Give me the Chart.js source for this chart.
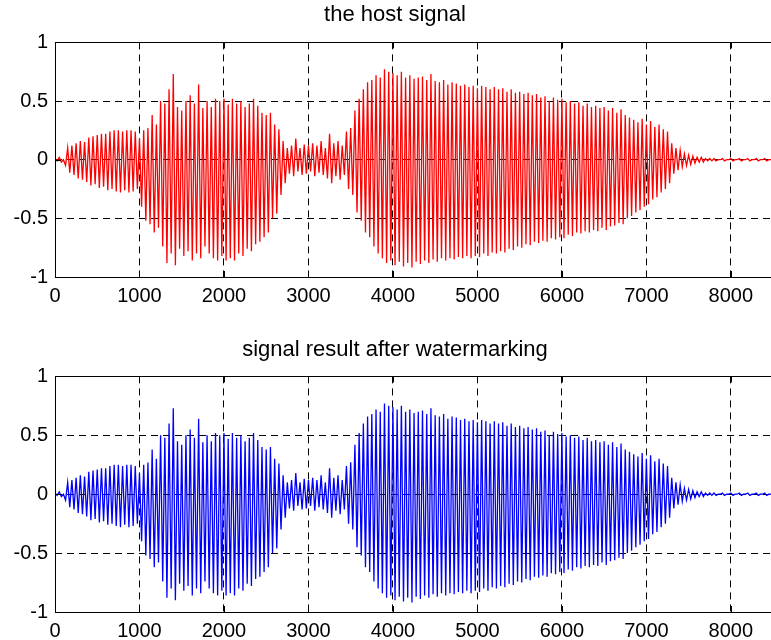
<!DOCTYPE html>
<html>
<head>
<meta charset="utf-8">
<title>host signal vs watermarked signal</title>
<script src="https://cdn.jsdelivr.net/npm/chart.js@4.4.0/dist/chart.umd.min.js"></script>
<style>
  html, body { margin: 0; padding: 0; background: #fff; overflow: hidden; }
  .plot { position: relative; width: 790px; height: 320px; }
</style>
</head>
<body>
<div class="plot"><canvas id="hostChart"></canvas></div>
<div class="plot"><canvas id="markedChart"></canvas></div>
<script>
// Sample spacing between successive peak readings
const SAMPLE_STEP = 50;

// Axis ticks
const xTicks = [0, 1000, 2000, 3000, 4000, 5000, 6000, 7000, 8000];
const yTicks = [-1, -0.5, 0, 0.5, 1];

// Positive peaks, one every SAMPLE_STEP samples (0 .. 8450)
const hostUpper = [
  0.01, 0.02, 0.00, 0.10, 0.12, 0.14, 0.16, 0.15, 0.19, 0.20,
  0.21, 0.22, 0.22, 0.24, 0.25, 0.25, 0.24, 0.25, 0.25, 0.24,
  0.18, 0.25, 0.27, 0.38, 0.30, 0.50, 0.48, 0.60, 0.73, 0.45,
  0.42, 0.50, 0.55, 0.48, 0.64, 0.44, 0.50, 0.45, 0.52, 0.50,
  0.52, 0.47, 0.52, 0.48, 0.50, 0.45, 0.48, 0.52, 0.46, 0.40,
  0.38, 0.40, 0.30, 0.26, 0.16, 0.10, 0.12, 0.18, 0.10, 0.13,
  0.12, 0.14, 0.12, 0.16, 0.10, 0.22, 0.14, 0.16, 0.12, 0.24,
  0.27, 0.42, 0.52, 0.60, 0.66, 0.68, 0.72, 0.70, 0.77, 0.75,
  0.74, 0.72, 0.75, 0.70, 0.72, 0.69, 0.70, 0.71, 0.68, 0.73,
  0.67, 0.66, 0.68, 0.64, 0.66, 0.65, 0.63, 0.64, 0.62, 0.63,
  0.61, 0.63, 0.62, 0.60, 0.62, 0.60, 0.61, 0.58, 0.60, 0.57,
  0.58, 0.56, 0.57, 0.55, 0.56, 0.53, 0.54, 0.50, 0.53, 0.51,
  0.52, 0.49, 0.50, 0.48, 0.49, 0.46, 0.48, 0.45, 0.46, 0.44,
  0.45, 0.42, 0.44, 0.40, 0.43, 0.38, 0.36, 0.34, 0.32, 0.35,
  0.30, 0.33, 0.28, 0.30, 0.26, 0.24, 0.14, 0.10, 0.08, 0.05,
  0.04, 0.03, 0.02, 0.02, 0.01, 0.01, 0.01, 0.00, 0.01, 0.00,
  0.01, 0.00, 0.01, 0.00, 0.01, 0.00, 0.01, 0.00, 0.01, 0.00
];

// Negative troughs, half a step after each peak (25 .. 8475)
const hostLower = [
  -0.01, -0.02, -0.05, -0.11, -0.13, -0.16, -0.17, -0.19, -0.22, -0.21,
  -0.24, -0.23, -0.26, -0.25, -0.27, -0.28, -0.26, -0.28, -0.27, -0.25,
  -0.40, -0.52, -0.55, -0.62, -0.58, -0.74, -0.88, -0.80, -0.90, -0.76,
  -0.82, -0.78, -0.86, -0.80, -0.84, -0.74, -0.80, -0.84, -0.86, -0.82,
  -0.86, -0.84, -0.86, -0.80, -0.82, -0.76, -0.78, -0.72, -0.70, -0.66,
  -0.62, -0.50, -0.46, -0.30, -0.20, -0.12, -0.14, -0.10, -0.13, -0.12,
  -0.10, -0.14, -0.11, -0.13, -0.16, -0.20, -0.14, -0.17, -0.13, -0.25,
  -0.30, -0.45, -0.52, -0.62, -0.66, -0.74, -0.80, -0.84, -0.88, -0.86,
  -0.90, -0.87, -0.91, -0.88, -0.92, -0.87, -0.89, -0.86, -0.88, -0.85,
  -0.87, -0.84, -0.86, -0.84, -0.85, -0.83, -0.84, -0.82, -0.84, -0.82,
  -0.83, -0.80, -0.82, -0.79, -0.80, -0.78, -0.79, -0.76, -0.77, -0.74,
  -0.75, -0.72, -0.73, -0.70, -0.71, -0.69, -0.70, -0.67, -0.68, -0.66,
  -0.67, -0.64, -0.65, -0.62, -0.63, -0.61, -0.62, -0.60, -0.61, -0.58,
  -0.60, -0.57, -0.56, -0.54, -0.55, -0.50, -0.48, -0.45, -0.43, -0.40,
  -0.38, -0.34, -0.32, -0.28, -0.25, -0.20, -0.12, -0.09, -0.06, -0.05,
  -0.04, -0.03, -0.02, -0.02, -0.01, -0.01, -0.01, 0.00, -0.01, 0.00,
  -0.01, 0.00, -0.01, 0.00, -0.01, 0.00, -0.01, 0.00, -0.01, 0.00
];

// Watermarked signal is visually identical to the host
const markedUpper = hostUpper.slice();
const markedLower = hostLower.slice();

const FONT = '"Liberation Sans", Arial, sans-serif';

function buildSignal(upper, lower) {
  const pts = [];
  upper.forEach((u, i) => {
    pts.push({ x: i * SAMPLE_STEP, y: u });
    pts.push({ x: i * SAMPLE_STEP + SAMPLE_STEP / 2, y: lower[i] });
  });
  return pts;
}

// Box around the axes plus short inward tick marks, like MATLAB
const matlabFrame = {
  id: 'matlabFrame',
  afterDraw(chart) {
    const { ctx, chartArea: a } = chart;
    const x = chart.scales.x, y = chart.scales.y;
    ctx.save();
    ctx.setLineDash([]);
    ctx.strokeStyle = '#000';
    ctx.lineWidth = 1;
    ctx.beginPath();
    x.ticks.forEach(t => {
      const px = Math.round(x.getPixelForValue(t.value)) + 0.5;
      ctx.moveTo(px, a.bottom); ctx.lineTo(px, a.bottom - 6);
      ctx.moveTo(px, a.top); ctx.lineTo(px, a.top + 6);
    });
    y.ticks.forEach(t => {
      const py = Math.round(y.getPixelForValue(t.value)) + 0.5;
      ctx.moveTo(a.left, py); ctx.lineTo(a.left + 6, py);
    });
    ctx.stroke();
    ctx.strokeRect(Math.round(a.left) + 0.5, Math.round(a.top) + 0.5,
                   Math.round(a.right - a.left), Math.round(a.bottom - a.top));
    ctx.restore();
  }
};

function makeChart(id, title, color, upper, lower, titlePad, xAxisHeight) {
  return new Chart(document.getElementById(id), {
    type: 'line',
    data: {
      datasets: [{
        data: buildSignal(upper, lower),
        borderColor: color,
        borderWidth: 1.3,
        pointRadius: 0,
        tension: 0,
        fill: false
      }]
    },
    options: {
      responsive: true,
      maintainAspectRatio: false,
      animation: false,
      events: [],
      layout: { padding: 0 },
      plugins: {
        legend: { display: false },
        tooltip: { enabled: false },
        title: {
          display: true,
          text: title,
          color: '#000',
          font: { family: FONT, size: 22, weight: 'normal', lineHeight: 1.2 },
          padding: titlePad
        }
      },
      scales: {
        x: {
          type: 'linear',
          min: 0,
          max: 8700,
          afterBuildTicks: s => { s.ticks = xTicks.map(v => ({ value: v })); },
          afterFit: s => { s.height = xAxisHeight; },
          grid: { color: '#000', lineWidth: 1, drawTicks: false },
          border: { display: false, dash: [7, 5] },
          ticks: {
            color: '#000',
            font: { family: FONT, size: 20 },
            padding: 7,
            maxRotation: 0,
            autoSkip: false,
            callback: v => String(v)
          }
        },
        y: {
          type: 'linear',
          min: -1,
          max: 1,
          afterBuildTicks: s => { s.ticks = yTicks.map(v => ({ value: v })); },
          afterFit: s => { s.width = 55; },
          grid: { color: '#000', lineWidth: 1, drawTicks: false },
          border: { display: false, dash: [7, 5] },
          ticks: {
            color: '#000',
            font: { family: FONT, size: 20 },
            padding: 7,
            autoSkip: false,
            callback: v => String(v)
          }
        }
      }
    },
    plugins: [matlabFrame]
  });
}

makeChart('hostChart', 'the host signal', '#ff0000', hostUpper, hostLower,
  { top: 2, bottom: 14 }, 43);
makeChart('markedChart', 'signal result after watermarking', '#0000ff', markedUpper, markedLower,
  { top: 17, bottom: 13 }, 28);
</script>
</body>
</html>
